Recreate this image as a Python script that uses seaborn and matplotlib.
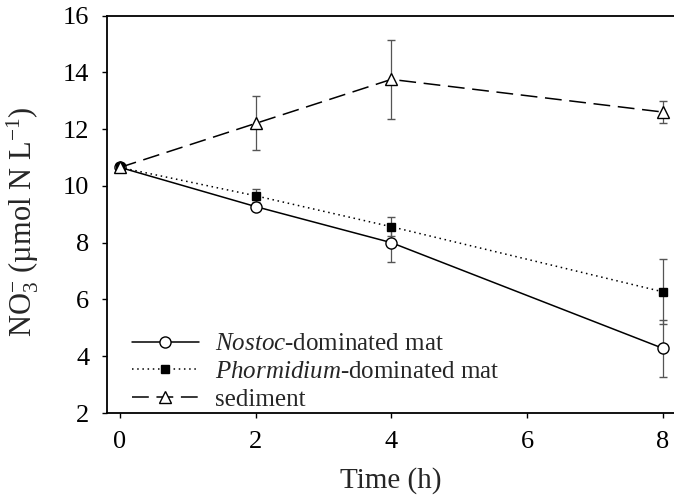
import matplotlib
matplotlib.use("Agg")
import matplotlib.pyplot as plt
import seaborn as sns
import numpy as np
import pandas as pd
from matplotlib.lines import Line2D

# ---- data ----
time_h = [0, 2, 4, 8]
nostoc = [10.65, 9.27, 8.0, 4.28]
nostoc_err = [0.0, 0.08, 0.67, 1.0]
phorm = [10.65, 9.65, 8.56, 6.27]
phorm_err = [0.0, 0.23, 0.33, 1.15]
sediment = [10.65, 12.2, 13.75, 12.6]
sediment_err = [0.0, 0.95, 1.4, 0.4]
labels = [r"$\mathit{Nostoc}$-dominated mat",
          r"$\mathit{Phormidium}$-dominated mat",
          "sediment"]
xticks = [0, 2, 4, 6, 8]
yticks = [2, 4, 6, 8, 10, 12, 14, 16]

sns.set_style("ticks")
plt.rcParams["font.family"] = ["Liberation Serif", "DejaVu Serif"]
plt.rcParams["mathtext.fontset"] = "custom"
plt.rcParams["mathtext.rm"] = "Liberation Serif"
plt.rcParams["mathtext.it"] = "Liberation Serif:italic"
plt.rcParams["mathtext.bf"] = "Liberation Serif:bold"

fig = plt.figure(figsize=(6.74, 4.97), dpi=100)
ax = fig.add_axes([107/674, 1-413/497, 1-107/674, (413-15.5)/497])

series = [
    (nostoc, nostoc_err, dict(marker="o", markersize=8, markerfacecolor="white"), "-", None),
    (phorm, phorm_err, dict(marker="s", markersize=6, markerfacecolor="black"), ":", (1, 2.4)),
    (sediment, sediment_err, dict(marker="^", markersize=9, markerfacecolor="white"), "--", (11, 5)),
]

handles = []
for (vals, errs, mk, ls, dashes), lab in zip(series, labels):
    eb = ax.errorbar(time_h, vals, yerr=errs, fmt="none", ecolor="#555555",
                     elinewidth=0.9, capsize=2.6, capthick=1.0, zorder=2)
    for cl in eb[1]:
        cl.set_color("black")
    df = pd.DataFrame({"t": time_h, "v": vals})
    sns.lineplot(data=df, x="t", y="v", ax=ax, color="black", linewidth=1.1,
                 linestyle=ls, markeredgecolor="black", markeredgewidth=1.0,
                 zorder=3, legend=False, **mk)
    ln = ax.lines[-1]
    if dashes is not None:
        ln.set_dashes(dashes)
    h = Line2D([0], [0], color="black", linewidth=1.1, linestyle=ls,
               markeredgecolor="black", markeredgewidth=1.0, **mk)
    if dashes is not None:
        h.set_dashes(dashes)
    handles.append(h)

ax.set_xlim(-13/67.85, 8 + 11.3/67.85)
ax.set_ylim(2, 16)
ax.set_xticks(xticks)
ax.set_yticks(yticks)
ax.tick_params(axis="both", direction="out", length=3.8, width=1.0,
               labelsize=19, colors="black", pad=9)
for s in ["left", "bottom", "top"]:
    ax.spines[s].set_visible(True)
    ax.spines[s].set_linewidth(1.3)
    ax.spines[s].set_color("black")
ax.spines["right"].set_visible(False)

ax.set_xlabel("Time (h)", fontsize=21, labelpad=10)
ax.set_ylabel(r"NO$_3^{-}$ (µmol N L$^{-1}$)", fontsize=22)
ax.yaxis.set_label_coords(-66/566, 0.48)

leg = ax.legend(handles, labels, loc="lower left",
                bbox_to_anchor=(22/566, 0.0), frameon=False, fontsize=18,
                handlelength=2.7, handletextpad=0.62, labelspacing=0.2,
                borderpad=0.1, borderaxespad=0.0)

fig.savefig("out.png", dpi=100)
